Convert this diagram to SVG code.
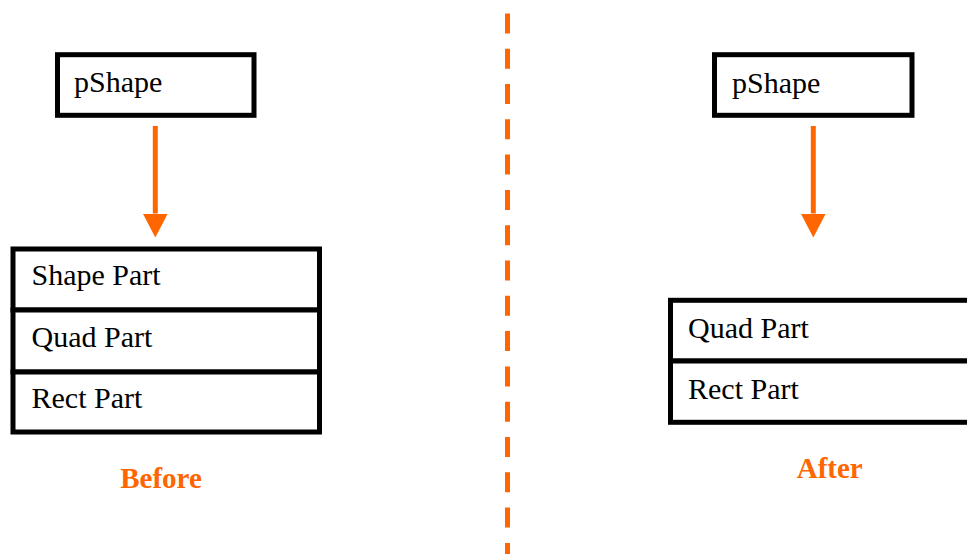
<svg xmlns="http://www.w3.org/2000/svg" width="967" height="554" viewBox="0 0 967 554">
<style>
.box{fill:#fff;stroke:#000;stroke-width:5}
.t{font-family:"Liberation Serif","Times New Roman",serif;font-size:30px;fill:#000}
.lbl{font-family:"Liberation Serif","Times New Roman",serif;font-size:29px;font-weight:bold;fill:#ff6600;text-anchor:middle}
.arr{stroke:#ff6600;stroke-width:5;fill:none}
</style>
<defs>
<marker id="ah" viewBox="0 0 24 25" refX="0" refY="12.5" markerWidth="24" markerHeight="25" markerUnits="userSpaceOnUse" orient="auto">
<path d="M0,0 L24,12.5 L0,25 Z" fill="#ff6600"/>
</marker>
</defs>
<rect width="967" height="554" fill="#fff"/>
<line x1="507.5" y1="13.4" x2="507.5" y2="554" stroke="#ff6600" stroke-width="5" stroke-dasharray="20 15.3"/>
<g id="before-pshape"><rect class="box" x="57.5" y="54.7" width="196.5" height="60.6"/><text class="t" x="74" y="92">pShape</text></g>
<g id="before-shape-part"><rect class="box" x="13" y="249" width="306.5" height="61"/><text class="t" x="31.5" y="285">Shape Part</text></g>
<g id="before-quad-part"><rect class="box" x="13" y="310" width="306.5" height="62"/><text class="t" x="31.5" y="347">Quad Part</text></g>
<g id="before-rect-part"><rect class="box" x="13" y="372" width="306.5" height="60"/><text class="t" x="31.5" y="408">Rect Part</text></g>
<g id="after-pshape"><rect class="box" x="714.5" y="54.7" width="197.5" height="60.6"/><text class="t" x="732" y="92.5">pShape</text></g>
<g id="after-quad-part"><rect class="box" x="670.5" y="300.3" width="310" height="60.7"/><text class="t" x="688" y="337.5">Quad Part</text></g>
<g id="after-rect-part"><rect class="box" x="670.5" y="361" width="310" height="61.3"/><text class="t" x="688" y="398.5">Rect Part</text></g>
<g id="connectors">
<line class="arr" x1="155.3" y1="126" x2="155.3" y2="213.5" marker-end="url(#ah)"/>
<line class="arr" x1="813.3" y1="126" x2="813.3" y2="213.5" marker-end="url(#ah)"/>
</g>
<text class="lbl" x="161" y="488">Before</text>
<text class="lbl" x="829.7" y="477.5">After</text>
</svg>
